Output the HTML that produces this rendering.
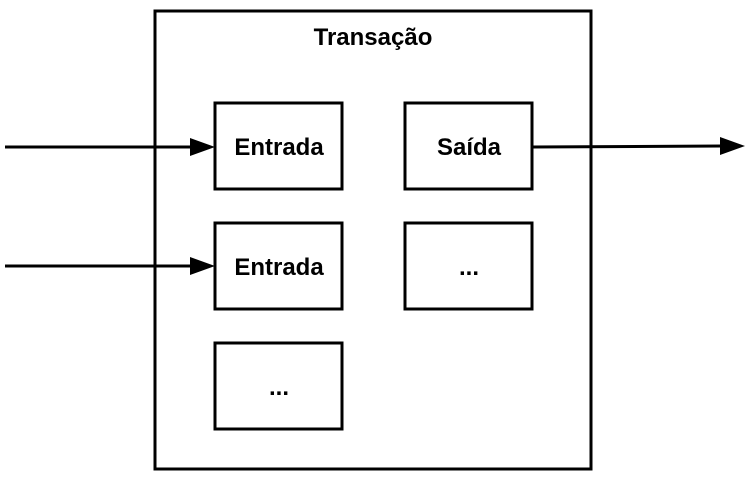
<!DOCTYPE html>
<html><head><style>body{margin:0;background:#fff}</style></head><body>
<svg width="753" height="481" xmlns="http://www.w3.org/2000/svg" font-family="Liberation Sans, Arial, sans-serif" font-weight="bold">
<g fill="none" stroke="#000" stroke-width="3">
<rect x="155" y="11" width="436" height="458"/>
<rect x="215" y="103" width="127" height="86"/>
<rect x="405" y="103" width="127" height="86"/>
<rect x="215" y="223" width="127" height="86"/>
<rect x="405" y="223" width="127" height="86"/>
<rect x="215" y="343" width="127" height="86"/>
<line x1="5" y1="147" x2="192" y2="147"/>
<line x1="5" y1="266" x2="192" y2="266"/>
<line x1="532" y1="147" x2="722" y2="146"/>
</g>
<polygon points="190,138 215,147 190,156"/>
<polygon points="190,257 215,266 190,275"/>
<polygon points="720,137 745,146 720,155"/>
<g font-size="24" text-anchor="middle" fill="#000">
<text x="373" y="45">Transação</text>
<text x="279" y="155">Entrada</text>
<text x="469" y="155">Saída</text>
<text x="279" y="275">Entrada</text>
<text x="469" y="275">...</text>
<text x="279" y="395">...</text>
</g>
</svg>
</body></html>
